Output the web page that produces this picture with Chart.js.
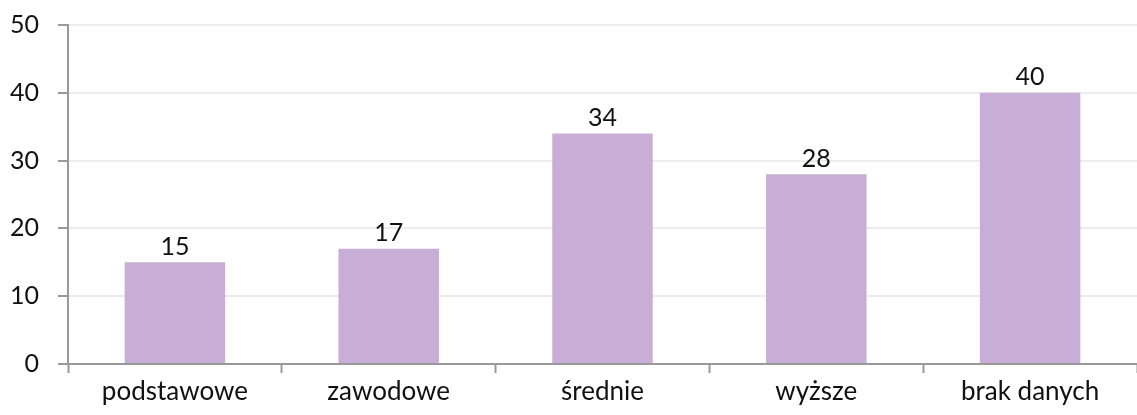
<!DOCTYPE html>
<html>
<head>
<meta charset="utf-8">
<script src="https://cdn.jsdelivr.net/npm/chart.js@4"></script>
<style>
  html, body { margin: 0; padding: 0; background: #fff; }
  #wrap { width: 1137px; height: 415px; }
</style>
</head>
<body>
<div id="wrap"><canvas id="chart" width="1137" height="415"></canvas></div>
<script>
"use strict";

// ── Data ────────────────────────────────────────────────
const categories = ["podstawowe", "zawodowe", "średnie", "wyższe", "brak danych"];
const values     = [15, 17, 34, 28, 40];
const yTicks     = [0, 10, 20, 30, 40, 50];

const FONT = "Lato, Open Sans, sans-serif";

// ── Value labels above bars ─────────────────────────────
const barLabels = {
  id: "barLabels",
  afterDatasetsDraw(chart) {
    const c = chart.ctx;
    const meta = chart.getDatasetMeta(0);
    c.save();
    c.font = "25px " + FONT;
    c.fillStyle = "#111";
    c.textAlign = "center";
    c.textBaseline = "bottom";
    meta.data.forEach((bar, i) => {
      c.fillText(String(values[i]), bar.x, bar.y - 3);
    });
    c.restore();
  },
};

new Chart(document.getElementById("chart"), {
  type: "bar",
  data: {
    labels: categories,
    datasets: [{
      data: values,
      backgroundColor: "#c8aed6",
      borderWidth: 0,
      categoryPercentage: 0.47,
      barPercentage: 1.0,
    }],
  },
  options: {
    responsive: false,
    animation: false,
    layout: { padding: { top: 25, right: 0, left: 0, bottom: 0 } },
    plugins: { legend: { display: false }, tooltip: { enabled: false } },
    scales: {
      x: {
        grid: {
          offset: true,
          drawOnChartArea: false,
          tickLength: 9,
          tickColor: "#999",
          tickWidth: 2,
        },
        border: { color: "#999", width: 2 },
        ticks: { color: "#111", font: { family: FONT, size: 26 }, padding: 3 },
        afterFit: s => { s.height = 51; s.paddingLeft = 0; s.paddingRight = 0; },
      },
      y: {
        min: 0,
        max: 50,
        afterBuildTicks: s => { s.ticks = yTicks.map(v => ({ value: v })); },
        grid: {
          color: "#ececec",
          lineWidth: 2,
          tickLength: 10,
          tickColor: "#999",
          tickWidth: 2,
        },
        border: { color: "#999", width: 2 },
        ticks: { color: "#111", font: { family: FONT, size: 25 }, padding: 19 },
        afterFit: s => { s.width = 68; s.paddingTop = 0; s.paddingBottom = 0; },
      },
    },
  },
  plugins: [barLabels],
});
</script>
</body>
</html>
